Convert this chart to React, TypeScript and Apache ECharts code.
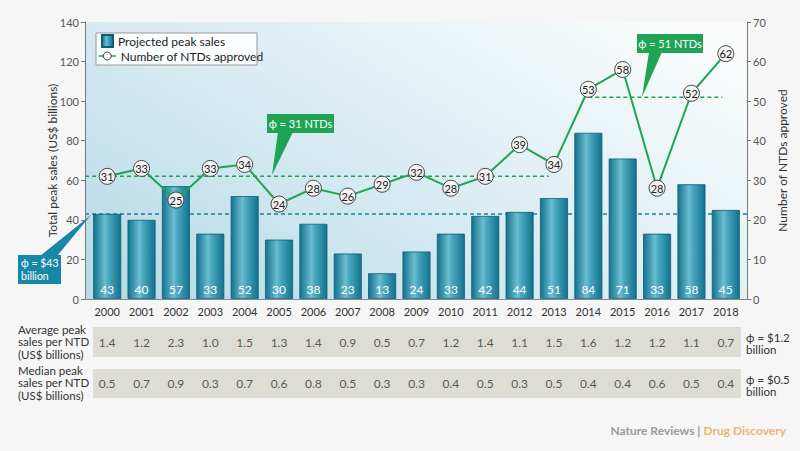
import React, { useEffect, useRef } from 'react';
import * as echarts from 'echarts';

const years = ['2000', '2001', '2002', '2003', '2004', '2005', '2006', '2007', '2008', '2009', '2010', '2011', '2012', '2013', '2014', '2015', '2016', '2017', '2018'];
const peakSales = [43, 40, 57, 33, 52, 30, 38, 23, 13, 24, 33, 42, 44, 51, 84, 71, 33, 58, 45];
const ntdsApproved = [31, 33, 25, 33, 34, 24, 28, 26, 29, 32, 28, 31, 39, 34, 53, 58, 28, 52, 62];
const avgPerNtd = [1.4, 1.2, 2.3, 1.0, 1.5, 1.3, 1.4, 0.9, 0.5, 0.7, 1.2, 1.4, 1.1, 1.5, 1.6, 1.2, 1.2, 1.1, 0.7];
const medianPerNtd = [0.5, 0.7, 0.9, 0.3, 0.7, 0.6, 0.8, 0.5, 0.3, 0.3, 0.4, 0.5, 0.3, 0.5, 0.4, 0.4, 0.6, 0.5, 0.4];
const leftAxis = { min: 0, max: 140, interval: 20 };
const rightAxis = { min: 0, max: 70, interval: 10 };
const meanSales = 43;
const meanNtdEarly = 31;
const meanNtdLate = 51;
const earlyRange = [0, 12.85];
const lateRange = [14, 17.9];

const FONT = 'Lato, "Open Sans", sans-serif';
const GREEN = '#1fa455';
const TEAL = '#1688a5';

// layout
const W = 800;
const gridL = 90, gridR = 743;
const plotL = 85, plotR = 747;
const band = (gridR - gridL) / years.length;
const c0 = gridL + band / 2;
const toIdx = (px: number) => (px - c0) / band;

export default function App() {
  const ref = useRef<HTMLDivElement>(null);
  useEffect(() => {
    document.body.style.margin = '0';
    document.body.style.background = '#f6f6f6';
    const chart = echarts.init(ref.current!, null, { renderer: 'svg' });

    const plotBg = new echarts.graphic.LinearGradient(0, 0.85, 1, 0.15, [
      { offset: 0, color: '#b9dbe7' },
      { offset: 0.5, color: '#dcedf3' },
      { offset: 1, color: '#fafcfc' },
    ]);
    const barFill = new echarts.graphic.LinearGradient(0, 0, 1, 0, [
      { offset: 0, color: '#12728d' },
      { offset: 0.42, color: '#6cbdd0' },
      { offset: 0.55, color: '#4aa7bf' },
      { offset: 1, color: '#12728d' },
    ]);

    const xMin1 = toIdx(plotL), xMax1 = toIdx(plotR);
    const xMinT = toIdx(93), xMaxT = toIdx(741);

    const rowLabel = (text: string, y: number) => ({
      type: 'text', x: 18, y,
      style: { text, fill: '#333', font: `11.5px ${FONT}`, lineHeight: 12.5 },
    });
    const rightLabel = (text: string, y: number) => ({
      type: 'text', x: 746, y,
      style: { text, fill: '#333', font: `11.5px ${FONT}`, lineHeight: 12 },
    });
    const callout = (fill: string, pts: number[][], box: number[], text: string, align: string, size: number) => ({
      type: 'group', z: 10, children: [
        { type: 'polygon', shape: { points: pts }, style: { fill } },
        { type: 'rect', shape: { x: box[0], y: box[1], width: box[2], height: box[3] }, style: { fill } },
        {
          type: 'text',
          x: align === 'center' ? box[0] + box[2] / 2 : box[0] + 3,
          y: box[1] + box[3] / 2,
          style: { text, fill: '#fff', font: `${size}px ${FONT}`, lineHeight: 13, align, verticalAlign: 'middle' },
        },
      ],
    });

    const legendCommon = {
      orient: 'vertical', backgroundColor: 'transparent', borderWidth: 0, padding: 0, z: 6,
      textStyle: { color: '#222', fontSize: 12, fontFamily: FONT },
    };

    const option: any = {
      animation: false,
      backgroundColor: '#f6f6f6',
      textStyle: { fontFamily: FONT },
      grid: [
        { left: plotL, right: W - plotR, top: 22, bottom: 152, show: true, backgroundColor: plotBg, borderWidth: 0, z: 0 },
        { left: gridL, right: W - gridR, top: 22, bottom: 152 },
        { left: 93, right: W - 741, top: 327, height: 30, show: true, backgroundColor: '#dddcd5', borderWidth: 0 },
        { left: 93, right: W - 741, top: 369, height: 29, show: true, backgroundColor: '#dddcd5', borderWidth: 0 },
      ],
      xAxis: [
        {
          gridIndex: 0, type: 'value', min: xMin1, max: xMax1,
          axisLine: { show: true, onZero: false, lineStyle: { color: '#888', width: 1 } },
          axisTick: { show: false }, axisLabel: { show: false }, splitLine: { show: false }, z: 5,
        },
        {
          gridIndex: 1, type: 'category', data: years,
          axisLine: { show: false }, axisTick: { show: false },
          axisLabel: { color: '#333', fontSize: 11, margin: 7, fontFamily: FONT },
        },
        { gridIndex: 2, type: 'value', min: xMinT, max: xMaxT, show: false },
        { gridIndex: 3, type: 'value', min: xMinT, max: xMaxT, show: false },
      ],
      yAxis: [
        { gridIndex: 0, type: 'value', min: leftAxis.min, max: leftAxis.max, show: false },
        { gridIndex: 0, type: 'value', min: rightAxis.min, max: rightAxis.max, show: false },
        {
          gridIndex: 1, type: 'value', position: 'left', offset: gridL - plotL,
          min: leftAxis.min, max: leftAxis.max, interval: leftAxis.interval,
          name: 'Total peak sales (US$ billions)', nameLocation: 'middle', nameGap: 27, nameMoveOverlap: false,
          nameTextStyle: { color: '#333', fontSize: 12, fontFamily: FONT },
          axisLine: { show: true, lineStyle: { color: '#777' } },
          axisTick: { show: true, length: 4, lineStyle: { color: '#777' } },
          axisLabel: { color: '#555', fontSize: 11, margin: 6, fontFamily: FONT },
          splitLine: { show: false }, z: 5,
        },
        {
          gridIndex: 1, type: 'value', position: 'right', offset: plotR - gridR,
          min: rightAxis.min, max: rightAxis.max, interval: rightAxis.interval,
          name: 'Number of NTDs approved', nameLocation: 'middle', nameGap: 17, nameRotate: 90,
          nameTextStyle: { color: '#333', fontSize: 12, fontFamily: FONT },
          axisLine: { show: true, lineStyle: { color: '#777' } },
          axisTick: { show: true, length: 4, lineStyle: { color: '#777' } },
          axisLabel: { color: '#555', fontSize: 11, margin: 6, fontFamily: FONT },
          splitLine: { show: false }, z: 5,
        },
        { gridIndex: 2, type: 'value', min: 0, max: 1, show: false },
        { gridIndex: 3, type: 'value', min: 0, max: 1, show: false },
      ],
      legend: [
        {
          ...legendCommon, left: 101, top: 34,
          data: [{ name: 'Projected peak sales', icon: 'rect' }],
          itemWidth: 11, itemHeight: 12, itemGap: 5,
        },
        {
          ...legendCommon, left: 98, top: 50,
          data: [{
            name: 'Number of NTDs approved',
            lineStyle: { color: GREEN, width: 1.5 },
            itemStyle: { color: '#f6f6f6', borderColor: '#444', borderWidth: 1 },
          }],
          itemWidth: 17, itemHeight: 10, itemGap: 2,
        },
      ],
      series: [
        {
          name: 'mean sales', type: 'line', xAxisIndex: 0, yAxisIndex: 0, z: 1, silent: true,
          data: [[xMin1, meanSales], [xMax1, meanSales]], symbol: 'none',
          lineStyle: { color: '#1d7fa0', width: 1.5, type: [4, 3] },
        },
        {
          name: 'mean early', type: 'line', xAxisIndex: 0, yAxisIndex: 1, z: 3, silent: true,
          data: [[xMin1, meanNtdEarly], [earlyRange[1], meanNtdEarly]], symbol: 'none',
          lineStyle: { color: GREEN, width: 1.5, type: [4, 3] },
        },
        {
          name: 'mean late', type: 'line', xAxisIndex: 0, yAxisIndex: 1, z: 3, silent: true,
          data: [[lateRange[0], meanNtdLate], [lateRange[1], meanNtdLate]], symbol: 'none',
          lineStyle: { color: GREEN, width: 1.5, type: [4, 3] },
        },
        {
          name: 'Projected peak sales', type: 'bar', xAxisIndex: 1, yAxisIndex: 2, z: 2,
          data: peakSales, barWidth: 28,
          itemStyle: { color: barFill, borderColor: '#0d5f75', borderWidth: 0.8 },
          label: { show: true, position: 'insideBottom', distance: 4, color: '#fff', fontSize: 12, fontFamily: FONT },
        },
        {
          name: 'Number of NTDs approved', type: 'line', xAxisIndex: 1, yAxisIndex: 3, z: 4,
          data: ntdsApproved, symbol: 'circle', symbolSize: 16,
          lineStyle: { color: GREEN, width: 2 },
          itemStyle: { color: '#f3f3f3', borderColor: '#444', borderWidth: 1 },
          label: { show: true, position: 'inside', color: '#222', fontSize: 11, fontFamily: FONT },
        },
        {
          name: 'avg', type: 'scatter', xAxisIndex: 2, yAxisIndex: 4, silent: true,
          data: avgPerNtd.map((v, i) => [i, 0.5, v]), symbolSize: 1,
          itemStyle: { color: 'rgba(0,0,0,0)' },
          label: { show: true, position: 'inside', color: '#333', fontSize: 12, fontFamily: FONT,
            formatter: (p: any) => Number(p.value[2]).toFixed(1) },
        },
        {
          name: 'median', type: 'scatter', xAxisIndex: 3, yAxisIndex: 5, silent: true,
          data: medianPerNtd.map((v, i) => [i, 0.5, v]), symbolSize: 1,
          itemStyle: { color: 'rgba(0,0,0,0)' },
          label: { show: true, position: 'inside', color: '#333', fontSize: 12, fontFamily: FONT,
            formatter: (p: any) => Number(p.value[2]).toFixed(1) },
        },
      ],
      graphic: [
        {
          type: 'rect', z: 3, shape: { x: 96, y: 33, width: 161, height: 32 },
          style: { fill: 'rgba(255,255,255,0.88)', stroke: '#999', lineWidth: 1 },
        },
        callout(GREEN, [[278, 132], [293, 132], [272, 175]], [267, 114, 67, 19], 'ϕ = 31 NTDs', 'center', 11),
        callout(GREEN, [[649, 52], [662, 52], [642, 97]], [637, 34, 66, 19], 'ϕ = 51 NTDs', 'center', 11),
        callout(TEAL, [[40, 256], [57, 256], [91, 215]], [18, 255, 43, 29], 'ϕ = $43\nbillion', 'left', 10.5),
        rowLabel('Average peak\nsales per NTD\n(US$ billions)', 323),
        rowLabel('Median peak\nsales per NTD\n(US$ billions)', 364),
        rightLabel('ϕ = $1.2\nbillion', 331),
        rightLabel('ϕ = $0.5\nbillion', 373),
        {
          type: 'text', right: 14, top: 424,
          style: {
            text: '{a|Nature Reviews | }{b|Drug Discovery}',
            rich: {
              a: { fill: '#9b9b9b', font: `bold 12px ${FONT}` },
              b: { fill: '#efb56f', font: `bold 12px ${FONT}` },
            },
          },
        },
      ],
    };

    chart.setOption(option);
    return () => chart.dispose();
  }, []);
  return <div ref={ref} style={{ width: 800, height: 451 }} />;
}
